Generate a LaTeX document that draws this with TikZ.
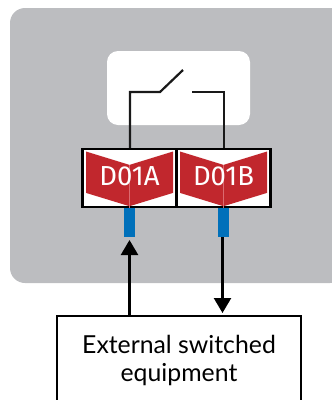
\documentclass[tikz,border=0pt]{standalone}
\usepackage{fontspec}
\setmainfont{Lato}
\newfontfamily\tagfont{Fira Sans}
\usepackage{xcolor}
\usetikzlibrary{positioning,arrows.meta}
\definecolor{panelgrey}{HTML}{BCBDC0}
\definecolor{tagred}{HTML}{C1272D}
\definecolor{tagline}{HTML}{DB6A70}
\definecolor{portblue}{HTML}{0070BA}
\tikzset{
   termbox/.style={draw=black,line width=2.3pt,fill=white,minimum width=94pt,minimum height=58pt,inner sep=0pt,outer sep=0pt},
   portbox/.style={fill=portblue,minimum width=11pt,minimum height=29pt,inner sep=0pt,outer sep=0pt},
   tagtext/.style={text=white,font=\tagfont\fontsize{27.5}{27.5}\selectfont,inner sep=0pt},
   wire/.style={line width=2.2pt,draw=black!90,line join=miter},
   signal/.style={line width=2.4pt,draw=black,-{Triangle[length=15pt,width=17pt]}}
}
\begin{document}
\begin{tikzpicture}[x=1pt,y=-1pt]
         \useasboundingbox (0,0) rectangle (332,400);
         \fill[panelgrey,rounded corners=15pt] (10,8) rectangle (345,283);
         \node[fill=white,rounded corners=11pt,minimum width=143pt,minimum height=74pt,name=swbox] at (178.5,88) {};

         \node[termbox,name=da] at (129.5,178) {};
         \node[termbox,name=db,right=0pt of da] {};
         \foreach \n in {da,db} {
            \fill[tagred] (\n.center) ++(-43.5,-26.5) -- ++(43.5,13.4) -- ++(43.5,-13.4) -- ++(0,41.4)
               -- ++(-43.5,13.3) -- ++(-43.5,-13.3) -- cycle;
            \draw[tagline,line width=0.5pt] (\n.center) ++(0,-13.1) -- ++(0,54.7);
         }
         \node[tagtext,name=ta] at ([yshift=2pt]da.center) {D01A};
         \node[tagtext,name=tb] at ([yshift=2pt]db.center) {D01B};

         \node[portbox,name=pa,below=1pt of da] {};
         \node[portbox,name=pb,below=1pt of db] {};

         \node[draw=black,line width=2.3pt,fill=white,minimum width=244pt,minimum height=88pt,align=center,
            font=\fontsize{24.8}{28}\selectfont,name=ext] at (179,360) {External switched\\equipment};

         % switch contacts
         \coordinate (cl) at (130,92);
         \coordinate (hinge) at (160,92);
         \coordinate (blade) at (183,70);
         \coordinate (fix) at (192,92);
         \coordinate (cr) at (224,92);
         \coordinate (la) at (130,148);
         \coordinate (lb) at (224,148);
         \coordinate (ua) at (129.5,240);
         \coordinate (ub) at (222.5,237);
         \coordinate (ea) at (129.5,315);
         \coordinate (eb) at (222.5,313);

         \draw[wire] (la) -- (cl) -- (hinge) -- (blade);
         \draw[wire] (fix) -- (cr) -- (lb);
         \path
            (ea) edge[signal] (ua)
            (ub) edge[signal] (eb);
      \end{tikzpicture}
\end{document}
